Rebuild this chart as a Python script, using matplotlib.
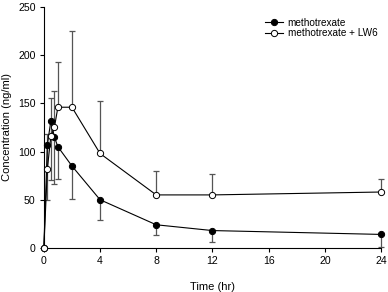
import matplotlib
matplotlib.use("Agg")
import matplotlib.pyplot as plt

time_hr = [0, 0.25, 0.5, 0.75, 1, 2, 4, 8, 12, 24]
mtx_mean = [0, 107, 132, 115, 105, 85, 50, 24, 18, 14]
mtx_lower_err = [0, 57, 62, 49, 33, 34, 21, 11, 12, 13]
lw6_mean = [0, 82, 116, 125, 146, 146, 98, 55, 55, 58]
lw6_upper_err = [0, 36, 40, 38, 47, 79, 54, 25, 22, 14]

x_ticks = [0, 4, 8, 12, 16, 20, 24]
y_ticks = [0, 50, 100, 150, 200, 250]

plt.rcParams['font.family'] = ['Liberation Sans', 'DejaVu Sans']
fig = plt.figure(figsize=(3.88, 2.92), dpi=100)
ax = fig.add_axes([0.113, 0.151, 0.869, 0.825])

ecol = '#555555'
ax.errorbar(time_hr, mtx_mean, yerr=[mtx_lower_err, [0]*len(mtx_lower_err)],
            fmt='none', ecolor=ecol, elinewidth=0.9, capsize=2.5, capthick=0.9, clip_on=False)
ax.errorbar(time_hr, lw6_mean, yerr=[[0]*len(lw6_upper_err), lw6_upper_err],
            fmt='none', ecolor=ecol, elinewidth=0.9, capsize=2.5, capthick=0.9, clip_on=False)
ax.plot(time_hr, mtx_mean, '-o', color='black', lw=0.8, ms=4.5, mfc='black', mec='black',
        mew=0.7, label='methotrexate', clip_on=False, zorder=3)
ax.plot(time_hr, lw6_mean, '-o', color='black', lw=0.8, ms=4.5, mfc='white', mec='black',
        mew=0.7, label='methotrexate + LW6', clip_on=False, zorder=4)

ax.set_xlim(0, 24)
ax.set_ylim(0, 250)
ax.set_xticks(x_ticks)
ax.set_yticks(y_ticks)
for s in ['top', 'right']:
    ax.spines[s].set_visible(False)
for s in ['left', 'bottom']:
    ax.spines[s].set_linewidth(0.8)
ax.tick_params(direction='out', length=3, width=0.8, labelsize=7.6, pad=3)
ax.set_xlabel('Time (hr)', fontsize=8, labelpad=11)
ax.set_ylabel('Concentration (ng/ml)', fontsize=8, labelpad=4)
ax.legend(loc='upper right', bbox_to_anchor=(1.01, 0.985), frameon=False, fontsize=7.2,
          handlelength=1.8, handletextpad=0.5, labelspacing=0.05, borderpad=0.2)

fig.savefig('out.png', dpi=100)
